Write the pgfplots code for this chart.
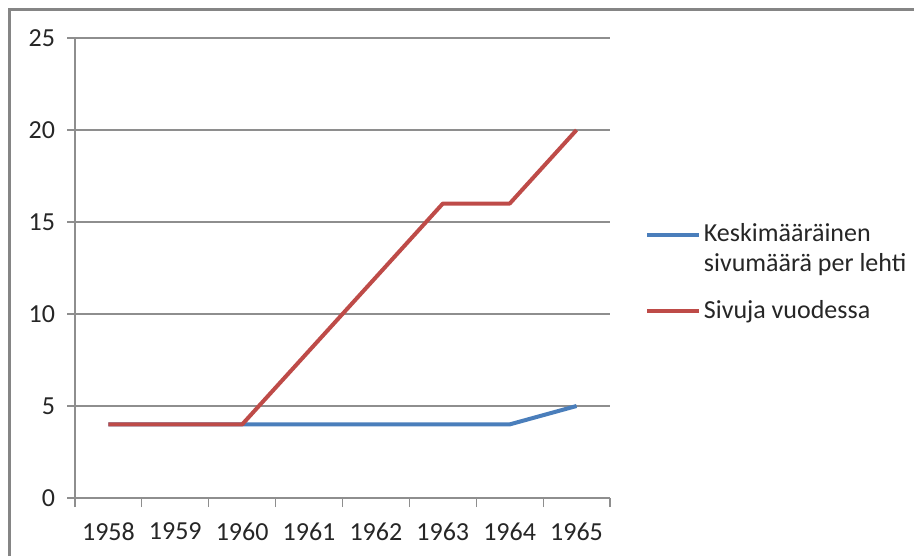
\documentclass[border=0pt]{standalone}
\usepackage{fontspec}
\setmainfont{Carlito}
\usepackage{pgfplots}
\pgfplotsset{compat=1.18}
\definecolor{serblue}{HTML}{4A7EBB}
\definecolor{serred}{HTML}{BE4B48}
\definecolor{gridgray}{HTML}{8E8E8E}
\definecolor{framegray}{HTML}{858585}
\begin{document}
\fontsize{13}{15}\selectfont
\begin{tikzpicture}
  \path[use as bounding box] (0,0) rectangle (457pt,278pt);
  % chart frame, only left and top visible
  \draw[framegray, line width=1.4pt] (4.6pt,0) -- (4.6pt,273.4pt) -- (457pt,273.4pt);
  \begin{axis}[
    at={(37.5pt,29pt)}, anchor=south west,
    scale only axis, width=267.5pt, height=230pt,
    xmin=1957.5, xmax=1965.5, ymin=0, ymax=25,
    xtick={1958,...,1965}, ytick={0,5,...,25},
    minor xtick={1957.5,1958.5,...,1965.5},
    axis lines=left,
    axis line style={-, draw=gridgray, line width=0.6pt},
    tick align=outside,
    major tick length=4pt, minor tick length=4.5pt,
    major x tick style={draw=none},
    minor x tick style={draw=gridgray, line width=0.6pt},
    ytick style={draw=gridgray, line width=0.6pt},
    ymajorgrids, grid style={draw=gridgray, line width=0.6pt},
    /pgf/number format/assume math mode=true,
    /pgf/number format/1000 sep={},
    ticklabel style={font=\fontsize{13}{15}\selectfont, text=black!85},
    yticklabel style={xshift=-1.5pt},
    xticklabel style={yshift=-4pt},
    legend style={draw=none, fill=none, at={(1,0.5)}, anchor=west,
      xshift=17.5pt, yshift=-2.5pt, inner sep=0pt, row sep=10pt,
      font=\fontsize{13}{15}\selectfont, text=black!85,
      nodes={inner sep=1.25pt},
      cells={anchor=west, align=left}},
    legend image code/.code={\draw[#1] (0pt,0pt) -- (26pt,0pt);},
    clip=false,
  ]
    \addplot[serblue, line width=2pt, line join=round,
      legend image code/.code={\draw[serblue, line width=2pt] (0pt,7.5pt) -- (26pt,7.5pt);}] coordinates {
      (1958,4) (1959,4) (1960,4) (1961,4) (1962,4) (1963,4) (1964,4) (1965,5)};
    \addlegendentry{Keskimääräinen\\sivumäärä per lehti}
    \addplot[serred, line width=2pt, line join=round] coordinates {
      (1958,4) (1959,4) (1960,4) (1961,8) (1962,12) (1963,16) (1964,16) (1965,20)};
    \addlegendentry{Sivuja vuodessa}
  \end{axis}
\end{tikzpicture}
\end{document}
